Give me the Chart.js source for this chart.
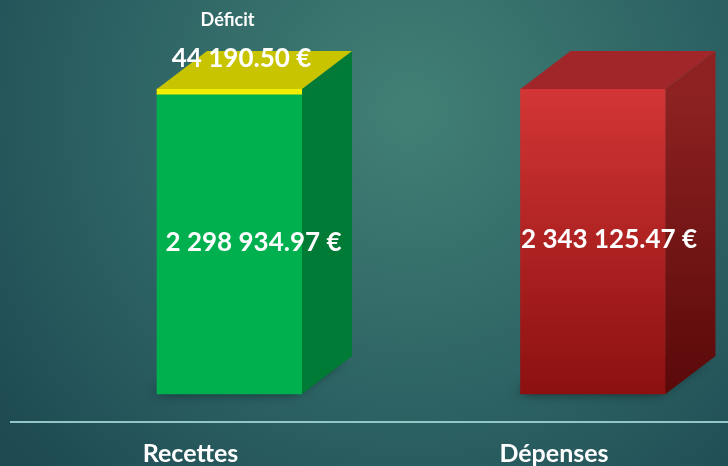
<!DOCTYPE html>
<html>
<head>
<meta charset="utf-8">
<script src="https://cdn.jsdelivr.net/npm/chart.js@4.4.1/dist/chart.umd.min.js"></script>
<style>
  html, body { margin: 0; padding: 0; background: #2a5c5d; }
  #wrap { width: 728px; height: 466px; }
</style>
</head>
<body>
<div id="wrap"><canvas id="budget"></canvas></div>
<script>
// Budget data
const categories = ['Recettes', 'Dépenses'];
const recettes = [2298934.97, null];
const deficit = [44190.50, null];
const depenses = [null, 2343125.47];
const deficitTitle = 'Déficit';

// 3D look
const depth = { x: 50, y: -38 };
const FONT = 'Lato, "Open Sans", sans-serif';

const fmtEuro = (v) => {
  const [int, dec] = v.toFixed(2).split('.');
  return int.replace(/\B(?=(\d{3})+(?!\d))/g, ' ') + '.' + dec + ' €';
};

const redFront = (ctx) => {
  const area = ctx.chart.chartArea;
  if (!area) return '#c02525';
  const g = ctx.chart.ctx.createLinearGradient(0, 85, 0, 395);
  g.addColorStop(0, '#d43636');
  g.addColorStop(1, '#8c1010');
  return g;
};

const poly = (ctx, pts, fill) => {
  ctx.beginPath();
  ctx.moveTo(pts[0][0], pts[0][1]);
  pts.slice(1).forEach(p => ctx.lineTo(p[0], p[1]));
  ctx.closePath();
  ctx.fillStyle = fill;
  ctx.fill();
};

const backgroundPlugin = {
  id: 'bg',
  beforeDraw(chart) {
    const { ctx, width, height } = chart;
    const g = ctx.createRadialGradient(410, 110, 10, 410, 110, 520);
    g.addColorStop(0, '#417f74');
    g.addColorStop(0.55, '#2d6364');
    g.addColorStop(1, '#1e4a52');
    ctx.save();
    ctx.fillStyle = g;
    ctx.fillRect(0, 0, width, height);
    ctx.restore();
  }
};

const cubePlugin = {
  id: 'cube',
  beforeDatasetsDraw(chart) {
    // soft shadow under each block
    const { ctx } = chart;
    const base = chart.scales.y.getPixelForValue(0);
    ctx.save();
    categories.forEach((c, i) => {
      const ds = chart.data.datasets.findIndex(d => d.data[i] != null);
      const el = chart.getDatasetMeta(ds).data[i];
      const l = el.x - el.width / 2, r = el.x + el.width / 2;
      ctx.shadowColor = 'rgba(0,0,0,0.75)';
      ctx.shadowBlur = 12;
      ctx.shadowOffsetX = -7;
      ctx.shadowOffsetY = 3;
      poly(ctx, [[l + 4, base - 4], [r, base - 4], [r + depth.x - 2, base + depth.y], [l + depth.x, base + depth.y]], 'rgba(0,0,0,0.8)');
    });
    ctx.restore();
  },
  afterDatasetsDraw(chart) {
    const { ctx } = chart;
    ctx.save();
    chart.data.datasets.forEach((d, di) => {
      const meta = chart.getDatasetMeta(di);
      meta.data.forEach((el, i) => {
        if (d.data[i] == null) return;
        const l = el.x - el.width / 2, r = el.x + el.width / 2;
        const t = el.y, b = el.base;
        let side = d.sideColor;
        if (d.sideGradient) {
          side = ctx.createLinearGradient(0, t, 0, b);
          side.addColorStop(0, d.sideGradient[0]);
          side.addColorStop(1, d.sideGradient[1]);
        }
        poly(ctx, [[r, t], [r + depth.x, t + depth.y], [r + depth.x, b + depth.y], [r, b]], side);
        const isTop = !chart.data.datasets.some((o, oi) => oi > di && o.data[i] != null);
        if (isTop) {
          poly(ctx, [[l, t], [l + depth.x, t + depth.y], [r + depth.x, t + depth.y], [r, t]], d.topColor);
        }
      });
    });

    // labels
    ctx.fillStyle = '#ffffff';
    ctx.textAlign = 'center';
    ctx.textBaseline = 'middle';
    ctx.font = 'bold 26px ' + FONT;
    const totals = categories.map((c, i) => (recettes[i] || 0) + (depenses[i] || 0));
    const shift = [24, 16];
    categories.forEach((c, i) => {
      const ds = chart.data.datasets.findIndex(d => d.data[i] != null);
      const el = chart.getDatasetMeta(ds).data[i];
      ctx.fillText(fmtEuro(totals[i]), el.x + shift[i], (el.y + el.base) / 2 - 2);
    });
    const dEl = chart.getDatasetMeta(1).data[0];
    ctx.fillText(fmtEuro(deficit[0]), dEl.x + 12, dEl.y - 30);
    ctx.font = 'bold 18px ' + FONT;
    ctx.fillText(deficitTitle, dEl.x - 2, 20);

    // baseline
    const yb = chart.chartArea.bottom;
    ctx.strokeStyle = '#93c6c6';
    ctx.lineWidth = 2;
    ctx.beginPath();
    ctx.moveTo(10, yb);
    ctx.lineTo(chart.width, yb);
    ctx.stroke();
    ctx.restore();
  }
};

new Chart(document.getElementById('budget'), {
  type: 'bar',
  data: {
    labels: categories,
    datasets: [
      { label: 'Recettes', data: recettes, backgroundColor: '#00b04f', sideColor: '#007b35', topColor: '#c8c400', clip: false },
      { label: 'Déficit', data: deficit, backgroundColor: '#f2ee00', sideColor: '#007b35', topColor: '#c9c400', clip: false },
      { label: 'Dépenses', data: depenses, backgroundColor: redFront, sideGradient: ['#8e2222', '#5a0909'], topColor: '#a1262a', clip: false }
    ]
  },
  options: {
    responsive: true,
    maintainAspectRatio: false,
    animation: false,
    layout: { padding: { left: 229.5, right: 135, top: 0, bottom: 0 } },
    plugins: { legend: { display: false }, tooltip: { enabled: false } },
    datasets: { bar: { barThickness: 145, borderWidth: 0 } },
    scales: {
      x: {
        stacked: true,
        offset: false,
        grid: { display: false, drawTicks: false },
        border: { display: false },
        afterFit: (scale) => { scale.height = 44; },
        ticks: {
          color: '#ffffff',
          padding: 17,
          labelOffset: -39,
          maxRotation: 0,
          font: { family: FONT, size: 25, weight: 'bold' }
        }
      },
      y: {
        stacked: true,
        display: false,
        min: -215000,
        max: 3026800
      }
    }
  },
  plugins: [backgroundPlugin, cubePlugin]
});
</script>
</body>
</html>
